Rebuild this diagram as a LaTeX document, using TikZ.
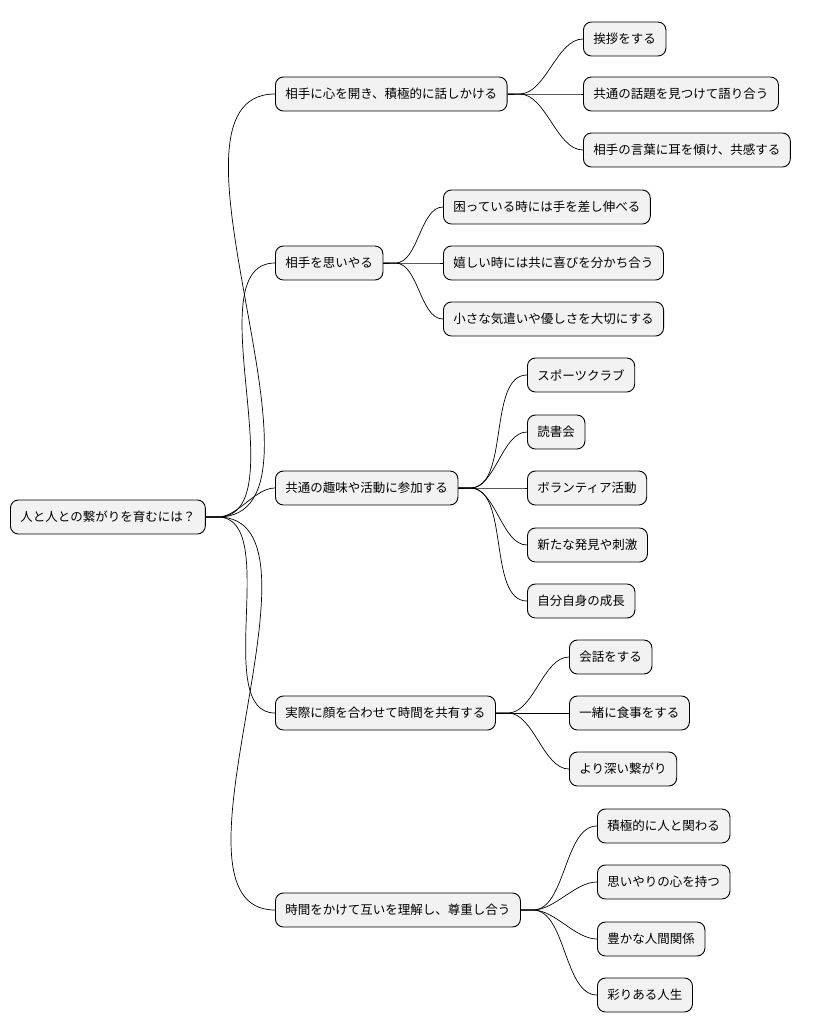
\documentclass[tikz,border=0pt]{standalone}
\usepackage{fontspec}
\setmainfont{Noto Sans CJK JP}
\begin{document}
\begin{tikzpicture}[x=1pt,y=-1pt,
  box/.style={draw=black,fill=gray!10,rounded corners=8pt,line width=0.9pt,anchor=west,minimum height=34pt,inner xsep=10pt,font=\fontsize{12.5}{14}\selectfont},
  link/.style={line width=0.7pt}]
\useasboundingbox (0,0) rectangle (824,1034);
\node[box] (r) at (10,517) {人と人との繋がりを育むには？};
\node[box] (a) at (275,94) {相手に心を開き、積極的に話しかける};
\node[box] (b) at (275,263) {相手を思いやる};
\node[box] (c) at (275,488) {共通の趣味や活動に参加する};
\node[box] (d) at (275,713) {実際に顔を合わせて時間を共有する};
\node[box] (e) at (275,910) {時間をかけて互いを理解し、尊重し合う};
\node[box] (a1) at (583,39) {挨拶をする};
\node[box] (a2) at (583,94) {共通の話題を見つけて語り合う};
\node[box] (a3) at (583,150) {相手の言葉に耳を傾け、共感する};
\node[box] (b1) at (443,207) {困っている時には手を差し伸べる};
\node[box] (b2) at (443,263) {嬉しい時には共に喜びを分かち合う};
\node[box] (b3) at (443,319) {小さな気遣いや優しさを大切にする};
\node[box] (c1) at (527,375) {スポーツクラブ};
\node[box] (c2) at (527,432) {読書会};
\node[box] (c3) at (527,488) {ボランティア活動};
\node[box] (c4) at (527,545) {新たな発見や刺激};
\node[box] (c5) at (527,601) {自分自身の成長};
\node[box] (d1) at (569,657) {会話をする};
\node[box] (d2) at (569,713) {一緒に食事をする};
\node[box] (d3) at (569,769) {より深い繋がり};
\node[box] (e1) at (597,826) {積極的に人と関わる};
\node[box] (e2) at (597,882) {思いやりの心を持つ};
\node[box] (e3) at (597,939) {豊かな人間関係};
\node[box] (e4) at (597,995) {彩りある人生};
\foreach \p/\cs in {r/{a,b,c,d,e},a/{a1,a2,a3},b/{b1,b2,b3},c/{c1,c2,c3,c4,c5},d/{d1,d2,d3},e/{e1,e2,e3,e4}}{
  \foreach \k in \cs {
    \draw[link] (\p.east) -- ++(12,0) to[out=0,in=180,looseness=0.8] (\k.west);
  }
}
\end{tikzpicture}
\end{document}
